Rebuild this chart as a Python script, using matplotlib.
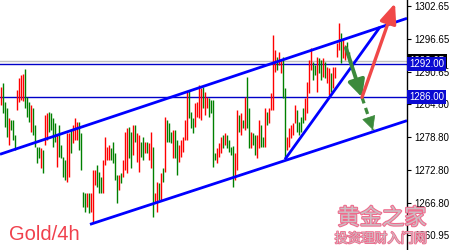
import matplotlib
matplotlib.use('Agg')
import matplotlib.pyplot as plt
import numpy as np
from matplotlib import patheffects as pe

# ---- data ----
# 'u' = rising bar (green), 'd' = falling bar (red)
direction = list(
    "duuuduuudd" "dduuuduuuu" "duddu" "uuudu" "uuudd"          # 0-34
    "udddu" "uuudu" "dddu" "uudd" "dduu" "uudu" "dddu" "udu"     # 35-67
    "dduudu" "ddudd" "ududu" "uuduu" "ddddd" "uuuddd"           # 68-99
    "duddu" "uuudd" "dudu" "uuudd" "udud" "uudu" "uddu" "ud"    # 100-132
    "udddd" "udduu" "ddddd" "uuuu" "dddd" "uudu" "u"            # 133-160
    "duddu" "ddddu" "dduu")                                      # 161-174
highs = [1287.9,1288.6,1285.1,1284.1,1282.2,1281.9,1281.9,1279.1,1287.3,1289.5,
         1290.0,1290.2,1291.1,1286.0,1285.1,1284.6,1284.1,1281.0,1277.0,1277.0,
         1276.8,1276.4,1282.8,1283.1,1283.3,1283.1,1282.2,1281.3,1279.1,1281.0,
         1277.3,1275.1,1274.6,1279.5,1279.5,1280.1,1281.0,1282.2,1281.5,1281.5,
         1279.5,1268.8,1268.6,1268.6,1268.6,1268.6,1272.8,1272.8,1273.7,1272.4,
         1271.5,1274.6,1278.8,1277.0,1277.3,1276.8,1277.9,1275.9,1271.9,1271.9,
         1272.2,1274.6,1279.7,1280.4,1280.6,1279.7,1281.0,1281.0,1279.5,1279.1,
         1277.9,1278.8,1277.9,1277.9,1277.7,1279.7,1277.0,1268.6,1270.6,1270.4,
         1272.2,1273.1,1282.4,1281.9,1281.3,1279.7,1280.1,1280.1,1278.2,1277.3,
         1278.2,1278.8,1281.9,1287.0,1287.3,1283.3,1282.2,1285.0,1285.1,1288.2,
         1287.7,1287.9,1287.0,1286.0,1285.9,1285.5,1285.5,1275.9,1276.8,1277.7,
         1278.8,1279.1,1279.5,1279.1,1278.2,1277.0,1277.1,1275.9,1283.7,1282.8,
         1283.1,1281.9,1286.0,1289.7,1284.1,1279.7,1279.5,1279.1,1279.1,1281.9,
         1281.0,1278.8,1284.1,1283.3,1284.1,1286.8,1297.3,1294.6,1293.3,1294.2,
         1292.8,1293.3,1287.7,1278.8,1280.4,1281.0,1281.3,1284.6,1283.7,1281.5,
         1282.4,1284.1,1285.9,1288.8,1292.8,1295.0,1292.4,1291.9,1293.3,1293.1,
         1292.8,1293.1,1292.4,1291.5,1291.3,1290.4,1291.5,1291.5,1295.9,1299.5,
         1297.7,1296.4,1295.5,1296.1,1294.2]
lows = [1284.6,1283.1,1280.6,1278.8,1277.3,1280.1,1278.2,1276.4,1283.7,1285.1,
        1285.5,1285.3,1284.1,1282.4,1281.5,1279.7,1279.1,1277.0,1274.1,1275.0,
        1273.1,1272.2,1277.3,1278.2,1279.7,1280.1,1277.0,1277.9,1273.3,1275.1,
        1275.0,1271.5,1271.0,1270.6,1271.5,1275.9,1277.7,1278.2,1278.2,1276.4,
        1272.8,1266.1,1265.1,1266.1,1265.0,1265.1,1263.1,1270.1,1269.7,1268.6,
        1268.6,1268.6,1273.7,1274.6,1274.6,1274.6,1274.1,1271.0,1266.8,1269.1,
        1270.4,1271.5,1272.8,1272.2,1275.0,1273.1,1275.5,1277.9,1274.2,1272.4,
        1275.1,1274.6,1275.9,1275.9,1274.6,1273.1,1264.2,1267.0,1265.1,1267.3,
        1267.3,1270.6,1272.4,1277.9,1277.9,1277.7,1275.0,1275.0,1271.9,1274.2,
        1275.1,1276.1,1278.2,1278.2,1282.2,1280.4,1279.5,1280.6,1282.4,1282.2,
        1281.9,1284.1,1282.8,1284.1,1282.4,1283.1,1273.3,1274.6,1274.1,1275.1,
        1275.9,1276.8,1277.3,1276.8,1276.1,1275.5,1269.7,1271.0,1272.8,1279.7,
        1279.1,1280.4,1280.1,1280.4,1276.8,1276.8,1277.3,1275.5,1275.0,1276.8,
        1277.0,1277.0,1277.0,1281.0,1281.3,1283.7,1283.7,1290.6,1291.0,1291.9,
        1290.4,1285.9,1274.6,1276.4,1277.0,1278.6,1279.1,1281.3,1279.7,1279.1,
        1279.7,1281.3,1281.9,1283.1,1286.8,1291.0,1289.1,1290.1,1287.0,1290.4,
        1289.1,1289.7,1289.5,1288.6,1286.4,1287.0,1287.7,1289.5,1293.3,1294.6,
        1292.2,1293.1,1292.8,1293.7,1292.4]

tick_values = [1302.65, 1296.65, 1290.65, 1284.80, 1278.80, 1272.80, 1266.80, 1260.95]
tick_labels = ["1302.65", "1296.65", "1290.65", "1284.80", "1278.80", "1272.80", "1266.80", "1260.95"]
level_lines = [1292.00, 1286.00]
current_price = 1292.65

# trend lines: (x0, p0, x1, p1) in bar index / price
upper_channel = (-0.25, 1275.64, 203.25, 1300.36)
lower_channel = (44.75, 1262.90, 203.25, 1281.76)
steep_line = (142.25, 1274.73, 189.75, 1298.78)
pivot = (180.75, 1286.0)
green_start = (172.75, 1294.96)
green_dash_end = (186.25, 1280.05)
red_end = (197.25, 1303.1)

n = min(len(highs), len(lows), len(direction))
x = np.arange(n)
hi = np.array(highs[:n]); lo = np.array(lows[:n])
up = np.array([d == 'u' for d in direction[:n]])

fig = plt.figure(figsize=(4.5, 2.5), dpi=100)
fig.patch.set_facecolor('white')
ax = fig.add_axes([0, 0, 407/450, 1])
ax.set_xlim(-0.25, 203.25)
ax.set_ylim(1258.24, 1303.69)
ax.set_facecolor('white')

# horizontal levels
ax.axhline(current_price, color='#c0c0c0', lw=1.0, zorder=1)
for lv in level_lines:
    ax.axhline(lv, color='#0000c8', lw=1.0, zorder=2)

ax.vlines(x[up], lo[up], hi[up], color='#008000', lw=1.0, zorder=3)
ax.vlines(x[~up], lo[~up], hi[~up], color='#ff0000', lw=1.0, zorder=3)

for (x0, p0, x1, p1) in (upper_channel, lower_channel, steep_line):
    ax.plot([x0, x1], [p0, p1], color='#0000ff', lw=2.0, zorder=4, solid_capstyle='butt')

# arrows
ax.annotate('', xy=pivot, xytext=green_start,
            arrowprops=dict(arrowstyle='-|>,head_length=1.0,head_width=0.5', lw=2.8,
                            color='#3c8a3c', shrinkA=0, shrinkB=0), zorder=5)
ax.plot([pivot[0], green_dash_end[0]], [pivot[1], green_dash_end[1]], color='#3c8a3c',
        lw=2.3, ls=(0, (2.0, 1.5)), zorder=5)
hx = pivot[0] + 0.8 * (green_dash_end[0] - pivot[0])
hy = pivot[1] + 0.8 * (green_dash_end[1] - pivot[1])
ax.annotate('', xy=green_dash_end, xytext=(hx, hy),
            arrowprops=dict(arrowstyle='-|>,head_length=0.9,head_width=0.45', lw=0.5,
                            color='#3c8a3c', shrinkA=0, shrinkB=0), zorder=5)
ax.annotate('', xy=red_end, xytext=pivot,
            arrowprops=dict(arrowstyle='-|>,head_length=1.2,head_width=0.5', lw=2.4,
                            color='#f04848', shrinkA=0, shrinkB=0), zorder=5)

# axes styling
for s in ('left', 'top', 'bottom'):
    ax.spines[s].set_visible(False)
ax.spines['right'].set_color('black')
ax.spines['right'].set_linewidth(1.0)
ax.set_xticks([])
ax.yaxis.tick_right()
ax.set_yticks(tick_values)
ax.set_yticklabels(tick_labels, fontsize=7, family='Liberation Sans')
ax.tick_params(axis='y', length=3, width=0.8, pad=2, colors='black')

# price labels on axis
ax.text(1.006, current_price, '1292.65', transform=ax.get_yaxis_transform(), fontsize=7,
        family='Liberation Sans', color='white', va='center', ha='left', clip_on=False, zorder=6,
        bbox=dict(boxstyle='square,pad=0.2', fc='black', ec='none'))
for lv in level_lines:
    ax.text(1.006, lv, f'{lv:.2f}', transform=ax.get_yaxis_transform(), fontsize=7,
            family='Liberation Sans', color='white', va='center', ha='left', clip_on=False, zorder=7,
            bbox=dict(boxstyle='square,pad=0.2', fc='#0a0ad2', ec='none'))

fig.text(9/450, 1 - 240/250, 'Gold/4h', fontsize=14.5, color='#f0404c',
         family='Liberation Sans', ha='left', va='baseline')

wm_fx = [pe.Stroke(linewidth=1.5, foreground='#f06a8c'), pe.Normal()]
fig.text(382/450, 1 - 218/250, '黄金之家', fontsize=16, color='#cdbcc2',
         family=['Noto Sans CJK SC', 'DejaVu Sans'], ha='center', va='center',
         path_effects=wm_fx, zorder=10)
fig.text(381/450, 1 - 239/250, '投资理财入门网', fontsize=9.5, color='#cdbcc2',
         family=['Noto Sans CJK SC', 'DejaVu Sans'], ha='center', va='center',
         path_effects=[pe.Stroke(linewidth=1.2, foreground='#f06a8c'), pe.Normal()], zorder=10)

fig.savefig('out.png', dpi=100)
